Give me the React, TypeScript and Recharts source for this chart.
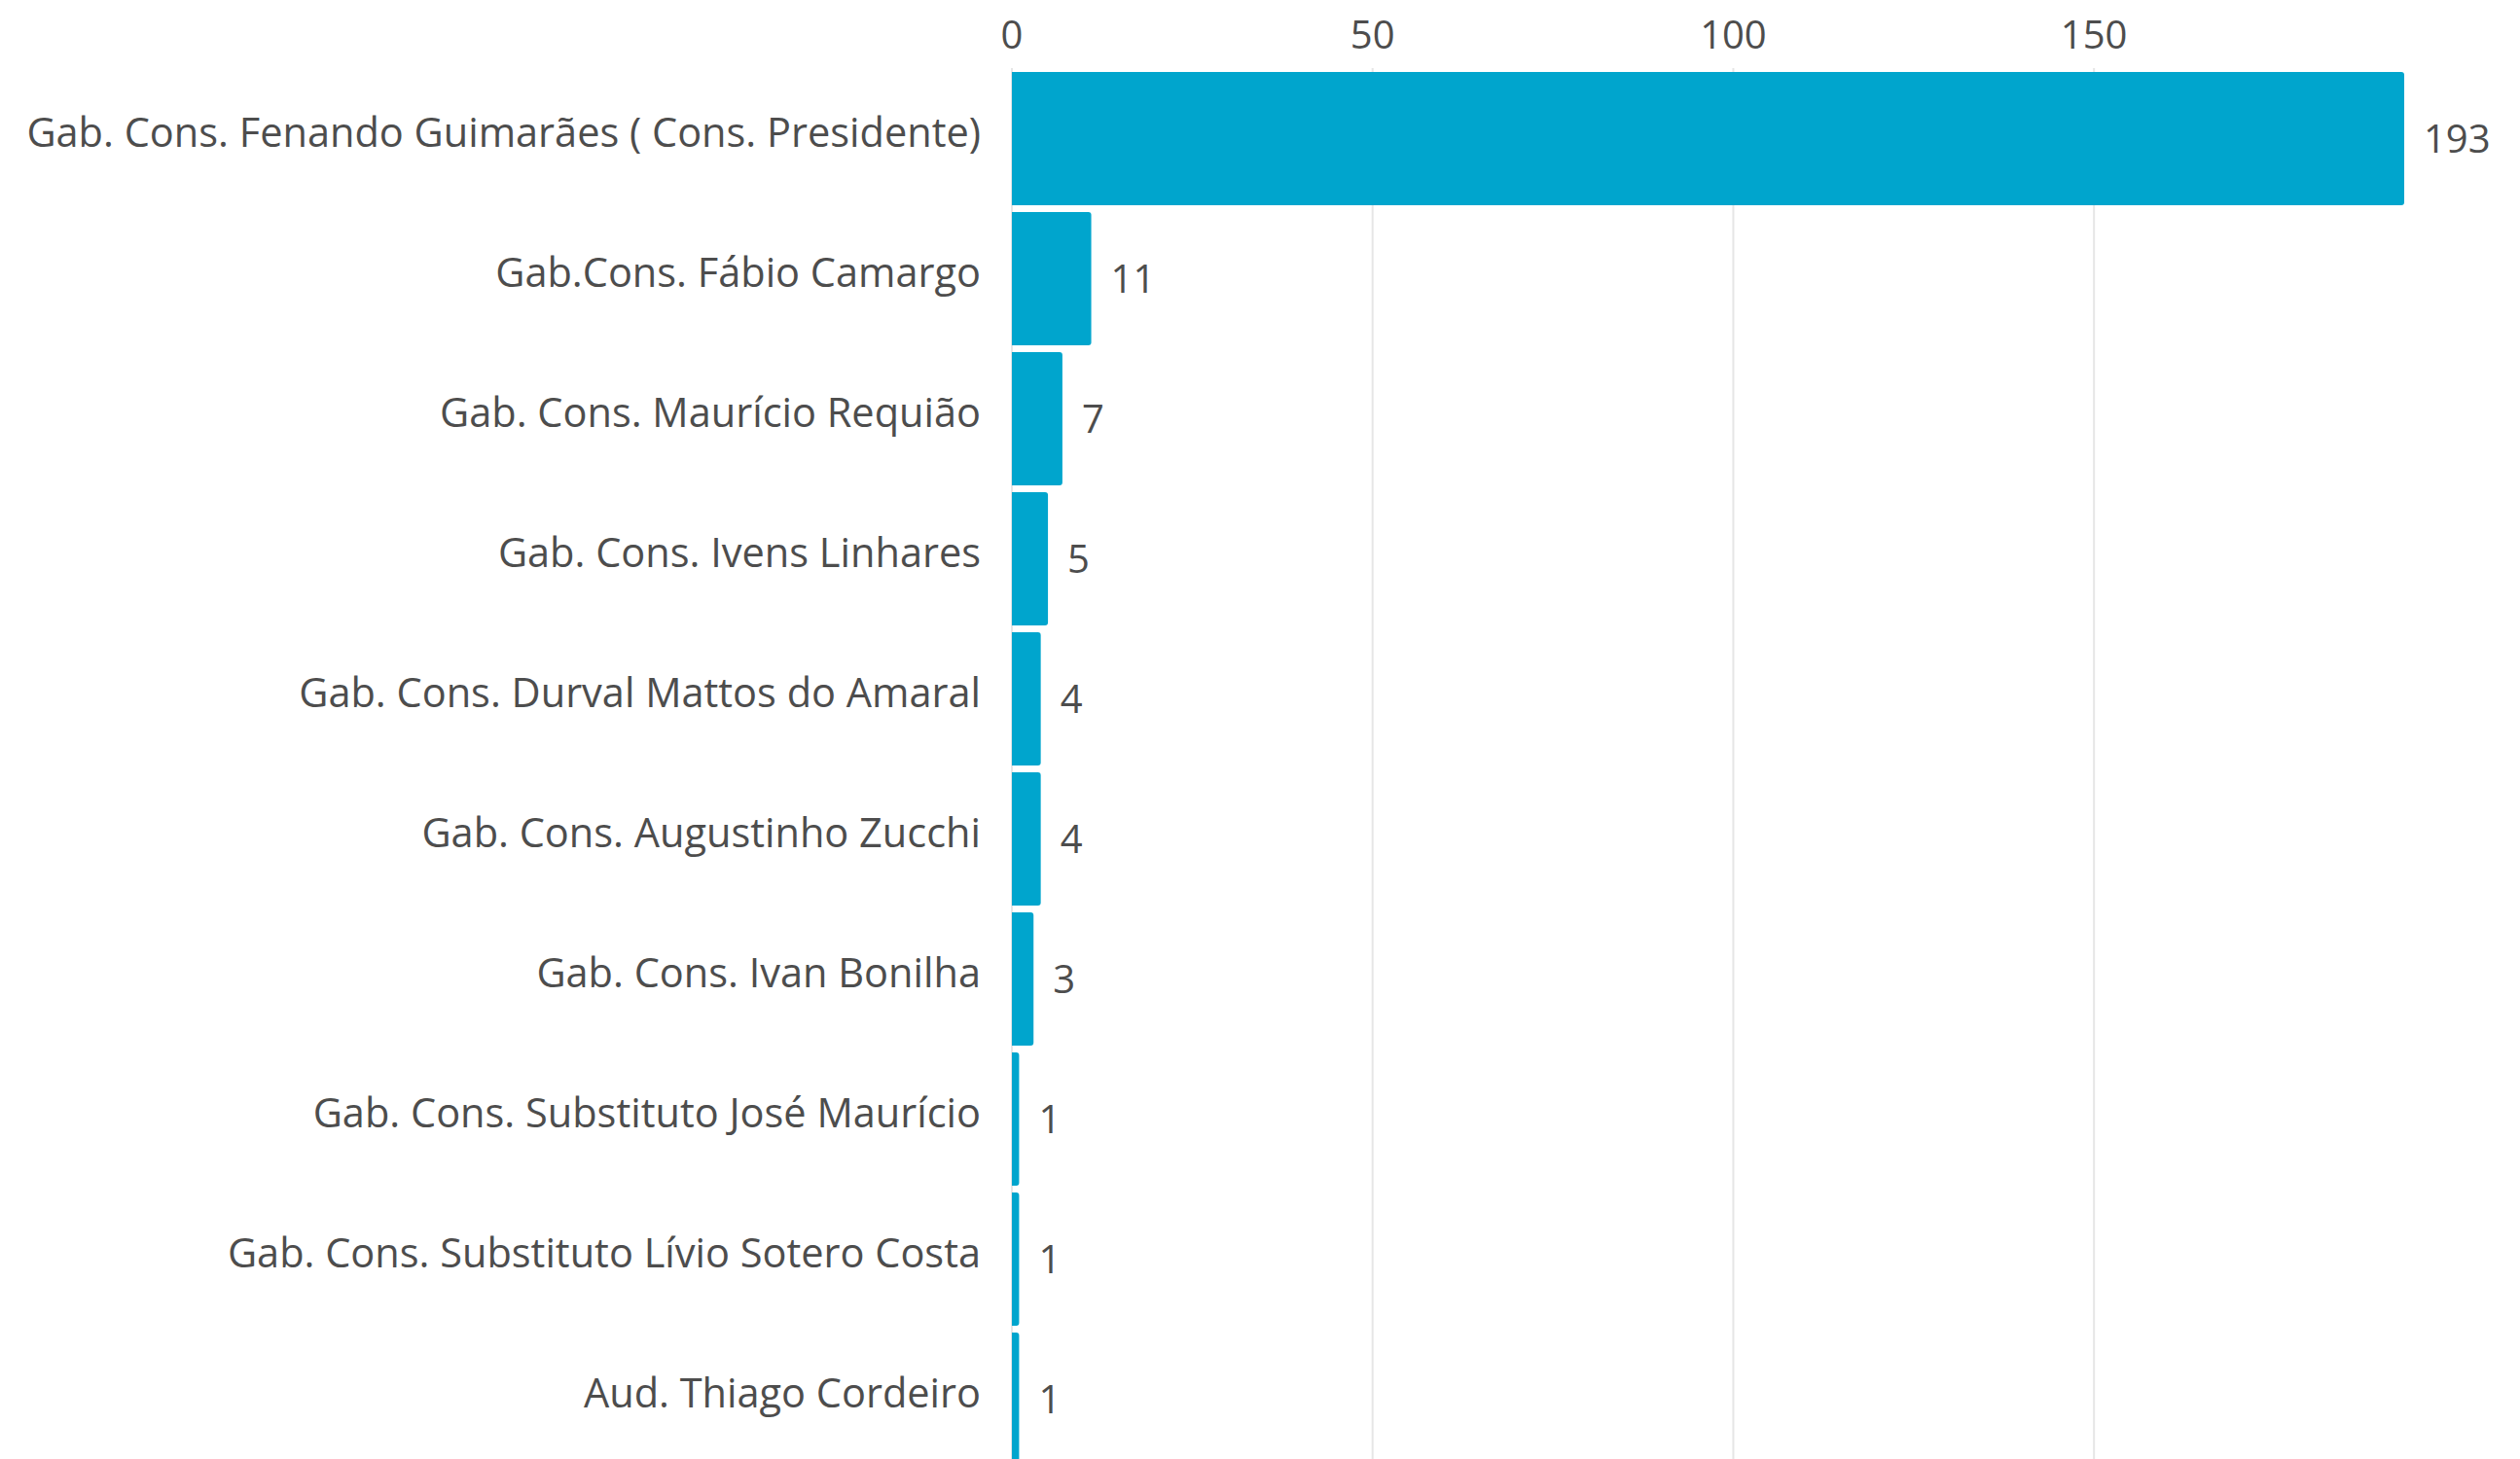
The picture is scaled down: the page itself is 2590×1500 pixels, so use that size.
import { BarChart, Bar, XAxis, YAxis, CartesianGrid, LabelList } from "recharts"

const gabinetes = [
  "Gab. Cons. Fenando Guimarães ( Cons. Presidente)",
  "Gab.Cons. Fábio Camargo",
  "Gab. Cons. Maurício Requião",
  "Gab. Cons. Ivens Linhares",
  "Gab. Cons. Durval Mattos do Amaral",
  "Gab. Cons. Augustinho Zucchi",
  "Gab. Cons. Ivan Bonilha",
  "Gab. Cons. Substituto José Maurício",
  "Gab. Cons. Substituto Lívio Sotero Costa",
  "Aud. Thiago Cordeiro",
]
const totais = [193, 11, 7, 5, 4, 4, 3, 1, 1, 1]
const xTicks = [0, 50, 100, 150]
const xMax = 193

const data = gabinetes.map((name, i) => ({ name, total: totais[i] }))

const font = "'Open Sans', sans-serif"
const textColor = "#4d4d4d"

// grid only on the labelled ticks, not at the domain end
const gridX = (props: any) => {
  const off = props?.offset
  if (!off) return []
  return xTicks.map((t) => off.left + (off.width * t) / xMax)
}

export default function App() {
  return (
    <div style={{ position: "fixed", left: 0, top: 0, width: 2590, height: 1500, overflow: "hidden", background: "#fff" }}>
      <BarChart
        width={2590}
        height={1510}
        data={data}
        layout="vertical"
        margin={{ top: 0, right: 119, bottom: 0, left: 0 }}
      >
        <CartesianGrid horizontal={false} stroke="#e6e6e6" strokeWidth={2} verticalCoordinatesGenerator={gridX} />
        <XAxis
          type="number"
          orientation="top"
          domain={[0, xMax]}
          ticks={xTicks}
          height={70}
          axisLine={false}
          tickLine={false}
          tickSize={0}
          tickMargin={20}
          tick={{ fill: textColor, fontSize: 40, fontFamily: font }}
        />
        <YAxis
          type="category"
          dataKey="name"
          width={1040}
          interval={0}
          axisLine={false}
          tickLine={false}
          tickSize={0}
          tickMargin={32}
          tick={{ fill: textColor, fontSize: 41.5, fontFamily: font, dy: -6 }}
        />
        <Bar dataKey="total" fill="#00a5cd" barSize={137} radius={[0, 3, 3, 0]} isAnimationActive={false}>
          <LabelList dataKey="total" position="right" offset={20} fill={textColor} fontSize={40} fontFamily={font} />
        </Bar>
      </BarChart>
    </div>
  )
}
